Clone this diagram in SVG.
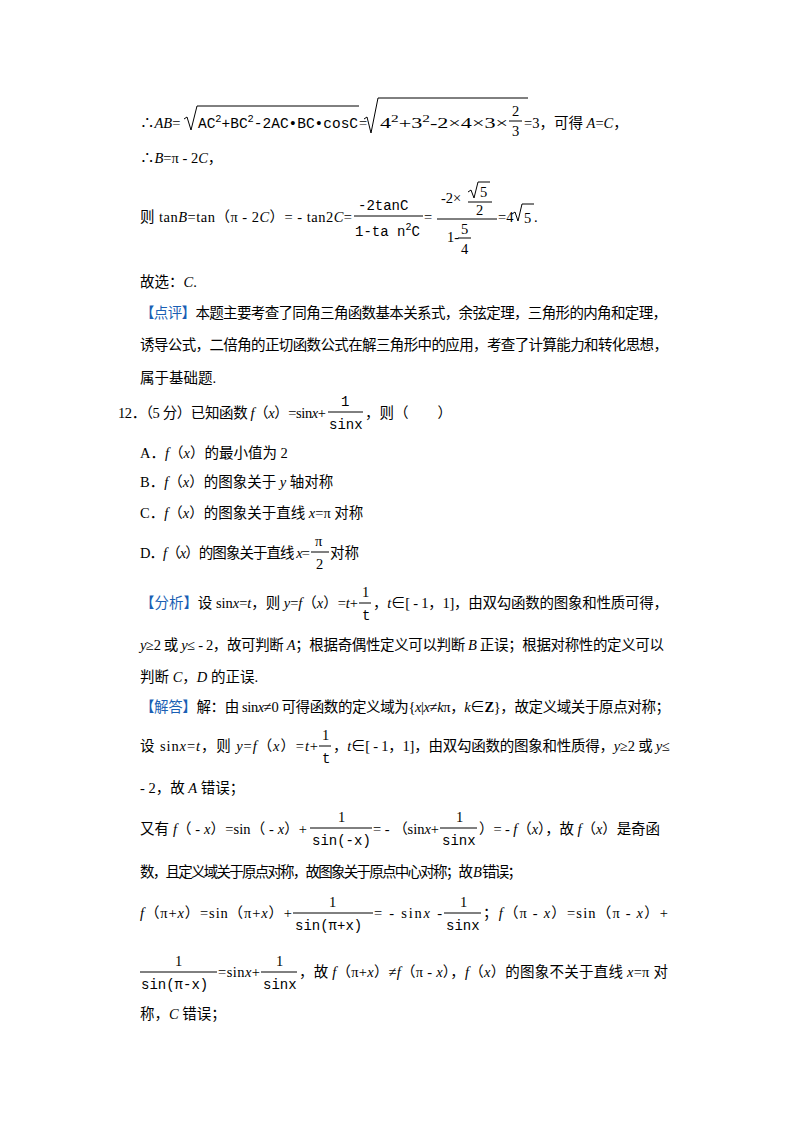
<svg xmlns="http://www.w3.org/2000/svg" width="800" height="1132" viewBox="0 0 800 1132">
<style>
text{font-family:"Liberation Serif","Noto Sans CJK SC",serif;font-size:14.5px;fill:#000}
.m{font-family:"Liberation Mono","DejaVu Sans Mono",monospace;font-size:14px}
.i{font-style:italic}
.b{fill:#1a5fb4}
line{stroke:#000;stroke-width:1}
</style>
<rect width="800" height="1132" fill="#fff"/>
<g id="l1">
<text x="140" y="128">∴<tspan class="i">AB</tspan>=</text>
<path d="M184,119 l3,-2 l4,13 l6,-24 h162" fill="none" stroke="#000"/>
<text class="m" x="198" y="128" textLength="160" lengthAdjust="spacingAndGlyphs">AC<tspan dy="-6" font-size="10">2</tspan><tspan dy="6">+BC</tspan><tspan dy="-6" font-size="10">2</tspan><tspan dy="6">-2AC•BC•cosC</tspan></text>
<text x="359" y="128">=</text>
<path d="M364,119 l3,-2 l4,16 l7,-35 h150" fill="none" stroke="#000"/>
<text x="380" y="128" textLength="128" lengthAdjust="spacingAndGlyphs">4<tspan dy="-6" font-size="10">2</tspan><tspan dy="6">+3</tspan><tspan dy="-6" font-size="10">2</tspan><tspan dy="6">-2×4×3×</tspan></text>
<text x="512" y="116">2</text><line x1="509" y1="121" x2="522" y2="121"/><text x="512" y="136">3</text>
<text x="524" y="128">=3，可得 <tspan class="i">A</tspan>=<tspan class="i">C</tspan>，</text>
</g>
<text x="140" y="163">∴<tspan class="i">B</tspan>=π - 2<tspan class="i">C</tspan>，</text>
<g id="l3">
<text x="140" y="222" textLength="212" lengthAdjust="spacing">则 tan<tspan class="i">B</tspan>=tan（π - 2<tspan class="i">C</tspan>）= - tan2<tspan class="i">C</tspan>=</text>
<text class="m" x="358" y="210">-2tanC</text><line x1="354" y1="216" x2="423" y2="216"/><text class="m" x="355" y="236">1-ta n<tspan dy="-6" font-size="10">2</tspan><tspan dy="6">C</tspan></text>
<text x="424" y="222">=</text>
<text x="441" y="203">-2×</text>
<path d="M468,192 l3,-2 l3,8 l4,-16 h12" fill="none" stroke="#000"/><text x="480" y="197">5</text>
<line x1="468" y1="202" x2="492" y2="202"/><text x="476" y="215">2</text>
<line x1="437" y1="219" x2="497" y2="219"/>
<text x="447" y="242">1-</text><text x="461" y="234">5</text><line x1="458" y1="238" x2="471" y2="238"/><text x="461" y="254">4</text>
<text x="498" y="222">=4</text>
<path d="M512,214 l3,-2 l3,9 l4,-17 h12" fill="none" stroke="#000"/><text x="524" y="223">5</text><text x="534" y="222">.</text>
</g>
<text x="140" y="287">故选：<tspan class="i">C</tspan>.</text>
<text x="140" y="318" textLength="527" lengthAdjust="spacing"><tspan class="b">【点评】</tspan>本题主要考查了同角三角函数基本关系式，余弦定理，三角形的内角和定理，</text>
<text x="140" y="350" textLength="528" lengthAdjust="spacing">诱导公式，二倍角的正切函数公式在解三角形中的应用，考查了计算能力和转化思想，</text>
<text x="140" y="383">属于基础题.</text>
<g id="q12">
<text x="118" y="418" textLength="208" lengthAdjust="spacing">12．（5 分）已知函数 <tspan class="i">f</tspan>（<tspan class="i">x</tspan>）=sin<tspan class="i">x</tspan>+</text>
<text class="m" x="341" y="406">1</text><line x1="328" y1="412" x2="363" y2="412"/><text class="m" x="329" y="429">sinx</text>
<text x="365" y="418">，则（　　）</text>
</g>
<text x="140" y="458">A．<tspan class="i">f</tspan>（<tspan class="i">x</tspan>）的最小值为 2</text>
<text x="140" y="487">B．<tspan class="i">f</tspan>（<tspan class="i">x</tspan>）的图象关于 <tspan class="i">y</tspan> 轴对称</text>
<text x="140" y="518">C．<tspan class="i">f</tspan>（<tspan class="i">x</tspan>）的图象关于直线 <tspan class="i">x</tspan>=π 对称</text>
<g id="optD">
<text x="140" y="558" textLength="170" lengthAdjust="spacing">D．<tspan class="i">f</tspan>（<tspan class="i">x</tspan>）的图象关于直线 <tspan class="i">x</tspan>=</text>
<text x="315" y="546">π</text><line x1="311" y1="552" x2="329" y2="552"/><text x="316" y="569">2</text>
<text x="330" y="558">对称</text>
</g>
<g id="fx">
<text x="140" y="608" textLength="218" lengthAdjust="spacing"><tspan class="b">【分析】</tspan>设 sin<tspan class="i">x</tspan>=<tspan class="i">t</tspan>，则 <tspan class="i">y</tspan>=<tspan class="i">f</tspan>（<tspan class="i">x</tspan>）=<tspan class="i">t</tspan>+</text>
<text x="362" y="597">1</text><line x1="359" y1="603" x2="371" y2="603"/><text class="m" x="362" y="620">t</text>
<text x="373" y="608" textLength="295" lengthAdjust="spacing">，<tspan class="i">t</tspan>∈[ - 1，1]，由双勾函数的图象和性质可得，</text>
<text x="140" y="650" textLength="524" lengthAdjust="spacing"><tspan class="i">y</tspan>≥2 或 <tspan class="i">y</tspan>≤ - 2，故可判断 <tspan class="i">A</tspan>；根据奇偶性定义可以判断 <tspan class="i">B</tspan> 正误；根据对称性的定义可以</text>
<text x="140" y="682">判断 <tspan class="i">C</tspan>，<tspan class="i">D</tspan> 的正误.</text>
</g>
<g id="jd">
<text x="140" y="712" textLength="530" lengthAdjust="spacing"><tspan class="b">【解答】</tspan>解：由 sin<tspan class="i">x</tspan>≠0 可得函数的定义域为{<tspan class="i">x</tspan>|<tspan class="i">x</tspan>≠<tspan class="i">k</tspan>π，<tspan class="i">k</tspan>∈<tspan font-weight="bold">Z</tspan>}，故定义域关于原点对称；</text>
<text x="140" y="751" textLength="178" lengthAdjust="spacing">设 sin<tspan class="i">x</tspan>=<tspan class="i">t</tspan>，则 <tspan class="i">y</tspan>=<tspan class="i">f</tspan>（<tspan class="i">x</tspan>）=<tspan class="i">t</tspan>+</text>
<text x="322" y="740">1</text><line x1="319" y1="746" x2="331" y2="746"/><text class="m" x="322" y="763">t</text>
<text x="333" y="751" textLength="337" lengthAdjust="spacing">，<tspan class="i">t</tspan>∈[ - 1，1]，由双勾函数的图象和性质得，<tspan class="i">y</tspan>≥2 或 <tspan class="i">y</tspan>≤</text>
<text x="140" y="793"> - 2，故 <tspan class="i">A</tspan> 错误；</text>
<text x="140" y="834" textLength="167" lengthAdjust="spacing">又有 <tspan class="i">f</tspan>（ - <tspan class="i">x</tspan>）=sin（ - <tspan class="i">x</tspan>）+</text>
<text x="338" y="822">1</text><line x1="310" y1="828" x2="372" y2="828"/><text class="m" x="312" y="845">sin(-x)</text>
<text x="373" y="834" textLength="66" lengthAdjust="spacing">= - （sin<tspan class="i">x</tspan>+</text>
<text x="456" y="822">1</text><line x1="440" y1="828" x2="477" y2="828"/><text class="m" x="442" y="845">sinx</text>
<text x="479" y="834" textLength="181" lengthAdjust="spacing">）= - <tspan class="i">f</tspan>（<tspan class="i">x</tspan>），故 <tspan class="i">f</tspan>（<tspan class="i">x</tspan>）是奇函</text>
<text x="140" y="877" textLength="382" lengthAdjust="spacing">数，且定义域关于原点对称，故图象关于原点中心对称；故 <tspan class="i">B</tspan> 错误；</text>
<text x="140" y="918" textLength="152" lengthAdjust="spacing"><tspan class="i">f</tspan>（π+<tspan class="i">x</tspan>）=sin（π+<tspan class="i">x</tspan>）+</text>
<text x="329" y="907">1</text><line x1="293" y1="913" x2="373" y2="913"/><text class="m" x="295" y="930">sin(π+x)</text>
<text x="374" y="918" textLength="68" lengthAdjust="spacing">= - sin<tspan class="i">x</tspan> - </text>
<text x="460" y="907">1</text><line x1="444" y1="913" x2="481" y2="913"/><text class="m" x="446" y="930">sinx</text>
<text x="483" y="918" textLength="185" lengthAdjust="spacing">；<tspan class="i">f</tspan>（π - <tspan class="i">x</tspan>）=sin（π - <tspan class="i">x</tspan>）+</text>
<text x="175" y="966">1</text><line x1="140" y1="972" x2="217" y2="972"/><text class="m" x="141" y="989">sin(π-x)</text>
<text x="218" y="977" textLength="42" lengthAdjust="spacing">=sin<tspan class="i">x</tspan>+</text>
<text x="276" y="966">1</text><line x1="261" y1="972" x2="297" y2="972"/><text class="m" x="263" y="989">sinx</text>
<text x="299" y="977" textLength="369" lengthAdjust="spacing">，故 <tspan class="i">f</tspan>（π+<tspan class="i">x</tspan>）≠<tspan class="i">f</tspan>（π - <tspan class="i">x</tspan>），<tspan class="i">f</tspan>（<tspan class="i">x</tspan>）的图象不关于直线 <tspan class="i">x</tspan>=π 对</text>
<text x="140" y="1019">称，<tspan class="i">C</tspan> 错误；</text>
</g>
</svg>
